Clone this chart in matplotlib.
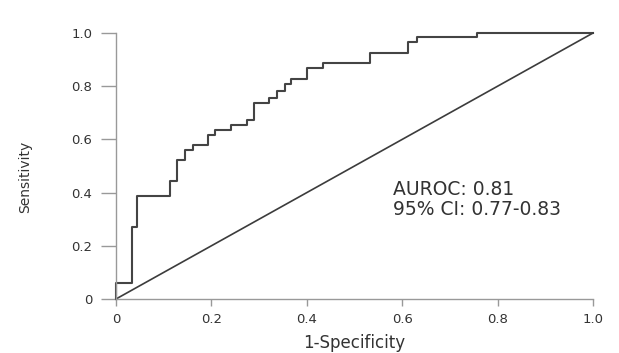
import matplotlib
matplotlib.use("Agg")
import matplotlib.pyplot as plt

# ROC points (steps-post)
fpr = [0, 0, 0.034, 0.044, 0.113, 0.128, 0.145, 0.161, 0.193, 0.208, 0.241, 0.275,
       0.289, 0.321, 0.338, 0.354, 0.367, 0.40, 0.434, 0.532, 0.612, 0.631, 0.757, 1.0]
tpr = [0, 0.06, 0.27, 0.387, 0.444, 0.523, 0.56, 0.579, 0.617, 0.635, 0.654, 0.673,
       0.737, 0.756, 0.782, 0.808, 0.827, 0.868, 0.887, 0.925, 0.966, 0.985, 1.0, 1.0]
ref_line = [0, 1]
ticks = [0, 0.2, 0.4, 0.6, 0.8, 1.0]
tick_labels = ["0", "0.2", "0.4", "0.6", "0.8", "1.0"]
auroc = "AUROC: 0.81"
ci = "95% CI: 0.77-0.83"

plt.rcParams['font.family'] = ['DejaVu Sans']

fig = plt.figure(figsize=(6.19, 3.53), dpi=100)
ax = fig.add_axes([0.1874, 0.153, 0.7706, 0.7535])

ax.plot(fpr, tpr, drawstyle="steps-post", color="#444444", lw=1.5, clip_on=False)
ax.plot(ref_line, ref_line, color="#3c3c3c", lw=1.2, clip_on=False)

ax.set_xlim(0, 1)
ax.set_ylim(0, 1)
for s in ["top", "right"]:
    ax.spines[s].set_visible(False)
for s in ["left", "bottom"]:
    ax.spines[s].set_color("#999999")
    ax.spines[s].set_linewidth(1.0)

ax.set_xticks(ticks)
ax.set_xticklabels(tick_labels)
ax.set_yticks(ticks)
ax.set_yticklabels(tick_labels)
ax.tick_params(axis="y", length=11, width=1, color="#999999", pad=6,
               labelsize=9.5, labelcolor="#333333")
ax.tick_params(axis="x", length=5, width=1, color="#999999", pad=5,
               labelsize=9.5, labelcolor="#333333")

ax.set_xlabel("1-Specificity", fontsize=12, color="#333333")
ax.xaxis.label.set_va("center")
ax.xaxis.set_label_coords(0.5, -0.165)
ax.set_ylabel("Sensitivity", fontsize=10, color="#333333")
ax.yaxis.label.set_va("center")
ax.yaxis.set_label_coords(-0.191, 0.46)

ax.text(0.58, 0.41, auroc, transform=ax.transAxes, fontsize=13.5,
        color="#333333", va="center", ha="left")
ax.text(0.58, 0.335, ci, transform=ax.transAxes, fontsize=13.5,
        color="#333333", va="center", ha="left")

fig.savefig("out.png", dpi=100)
